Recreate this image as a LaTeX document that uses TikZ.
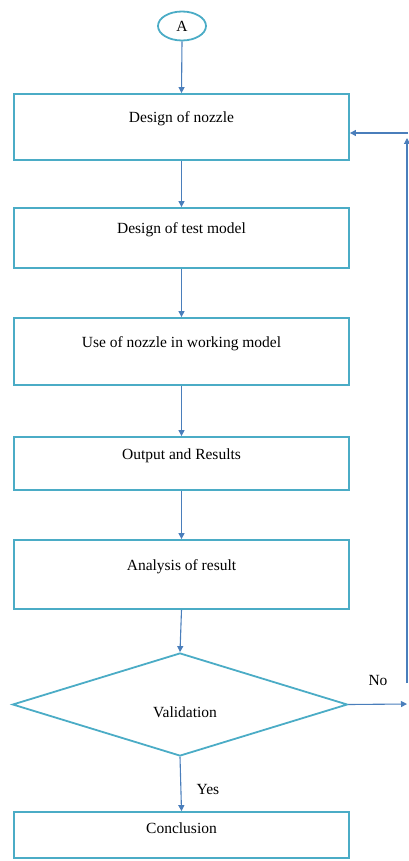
\documentclass[tikz,border=0pt]{standalone}
\usepackage{fontspec}
\setmainfont{Liberation Serif}
\usetikzlibrary{shapes.geometric,arrows.meta}
\definecolor{boxblue}{HTML}{4BACC6}
\definecolor{arrblue}{HTML}{4A7EBB}
\tikzset{
  stepbox/.style={draw=boxblue,line width=1.8pt,rectangle,minimum width=335pt,minimum height=#1,inner sep=0pt,text height=10pt,text depth=19pt,font=\fontsize{15.5}{17}\selectfont},
  conn/.style={draw=arrblue,line width=1.1pt,-{Triangle[length=6pt,width=6pt]}},
  lbl/.style={font=\fontsize{15.5}{17}\selectfont,inner sep=0pt}
}
\begin{document}
\begin{tikzpicture}[x=1pt,y=-1pt]
\useasboundingbox (0,0) rectangle (408,861);
\node[draw=boxblue,line width=1.8pt,ellipse,minimum width=48pt,minimum height=29pt,inner sep=0pt,font=\fontsize{15.5}{17}\selectfont] (a) at (182,26) {A};
\node[stepbox=66pt] (b1) at (181.5,127) {Design of nozzle};
\node[stepbox=60pt] (b2) at (181.5,238) {Design of test model};
\node[stepbox=67pt] (b3) at (181.5,351.5) {Use of nozzle in working model};
\node[stepbox=53pt] (b4) at (181.5,463.5) {Output and Results};
\node[stepbox=69pt] (b5) at (181.5,574.5) {Analysis of result};
\node[draw=boxblue,line width=1.8pt,diamond,minimum width=335pt,minimum height=103pt,inner sep=0pt,aspect=3.25] (v) at (180,704.5) {};
\node[lbl] (vt) at (185,712) {Validation};
\node[stepbox=46pt,text depth=13pt] (c) at (181.5,835) {Conclusion};
\draw[conn] (a.south) -- (b1.north);
\draw[conn] (b1.south) -- (b2.north);
\draw[conn] (b2.south) -- (b3.north);
\draw[conn] (b3.south) -- (b4.north);
\draw[conn] (b4.south) -- (b5.north);
\draw[conn] (b5.south) -- (v.north);
\draw[conn] (v.south) -- (c.north);
\coordinate (noend) at (407,704);
\coordinate (upstart) at (407,683);
\coordinate (uptop) at (407,138);
\coordinate (backstart) at (408,133);
\draw[conn] (v.east) -- (noend);
\draw[conn] (upstart) -- (uptop);
\draw[conn] (backstart) -- (b1.east |- backstart);
\node[lbl] (no) at (378,680) {No};
\node[lbl] (yes) at (208,789) {Yes};
\end{tikzpicture}
\end{document}
